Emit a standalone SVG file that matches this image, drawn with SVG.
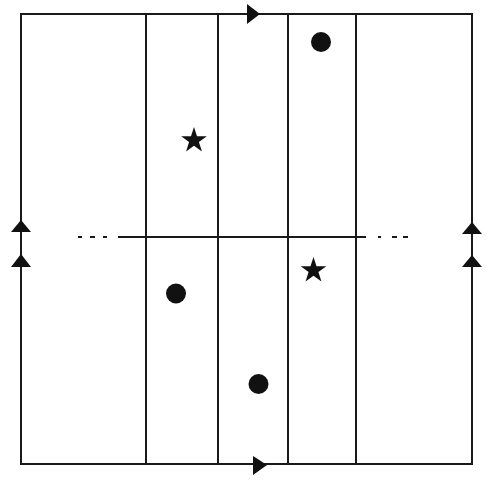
<svg xmlns="http://www.w3.org/2000/svg" width="500" height="480" viewBox="0 0 500 480">
<style>
.ln{stroke:#1a1a1a;stroke-width:2;fill:none}
.fill{fill:#111;stroke:none}
</style>
<defs>
<polygon id="star" points="0,-13.5 3.03,-4.17 12.84,-4.17 4.91,1.59 7.94,10.92 0,5.16 -7.94,10.92 -4.91,1.59 -12.84,-4.17 -3.03,-4.17"/>
</defs>
<rect width="500" height="480" fill="#fff"/>
<g id="frame">
<rect class="ln" x="21" y="14" width="451" height="450" stroke-width="2.2"/>
</g>
<g id="strips">
<line class="ln" x1="146" y1="14" x2="146" y2="464"/>
<line class="ln" x1="218" y1="14" x2="218" y2="464"/>
<line class="ln" x1="288" y1="14" x2="288" y2="464"/>
<line class="ln" x1="356" y1="14" x2="356" y2="464"/>
</g>
<g id="connectors">
<line class="ln" x1="118" y1="237" x2="366" y2="237"/>
<line class="ln" x1="78" y1="237" x2="82" y2="237"/>
<line class="ln" x1="90" y1="237" x2="95" y2="237"/>
<line class="ln" x1="103" y1="237" x2="107" y2="237"/>
<line class="ln" x1="378" y1="237" x2="381" y2="237"/>
<line class="ln" x1="392" y1="237" x2="397" y2="237"/>
<line class="ln" x1="403" y1="237" x2="408" y2="237"/>
</g>
<g id="arrows" class="fill">
<polygon points="21,220 11,232 31,232"/>
<polygon points="21,254 11,267 31,267"/>
<polygon points="472,222 462,234 482,234"/>
<polygon points="472,255 462,267 482,267"/>
<polygon points="247,4 260,14 247,24"/>
<polygon points="253,456 267,465 253,475"/>
</g>
<g id="markers" class="fill">
<circle cx="321" cy="42" r="10"/>
<circle cx="176" cy="293.5" r="10"/>
<circle cx="258.5" cy="384" r="10"/>
<use href="#star" x="194" y="140.5"/>
<use href="#star" x="313.5" y="270.5"/>
</g>
</svg>
